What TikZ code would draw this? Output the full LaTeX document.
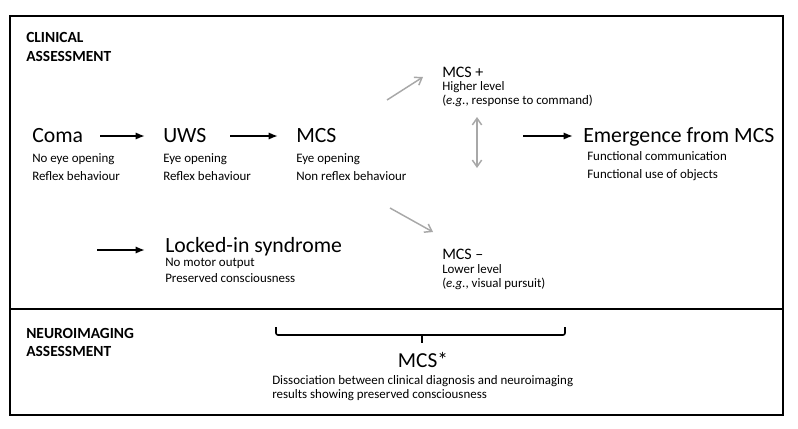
\documentclass[tikz,border=0pt]{standalone}
\usepackage{fontspec}
\setmainfont{Carlito}
\usepackage{xcolor}
\usetikzlibrary{arrows.meta, positioning, calc}

\definecolor{arrowgray}{RGB}{168,168,168}

\begin{document}
\begin{tikzpicture}[x=0.75pt, y=-0.75pt, >={Latex[length=7pt,width=5.5pt]},
					state/.style={inner sep=0pt, anchor=base west, font=\fontsize{16.3}{19}\selectfont},
					substate/.style={inner sep=0pt, anchor=base west, font=\fontsize{12}{14}\selectfont},
					desc/.style={inner sep=0pt, anchor=base west, align=left, font=\fontsize{9.7}{13.5}\selectfont},
					header/.style={inner sep=0pt, anchor=base west, align=left, font=\bfseries\fontsize{11.6}{13.5}\selectfont},
					arrow/.style={->, line width=1.5pt},
					grayarrow/.style={-{Straight Barb[length=5pt,width=7pt]}, line width=1.1pt, draw=arrowgray}
				]
					\useasboundingbox (0,0) rectangle (798,428);
					
					% Frame
					\draw[line width=1.5pt] (10,16) rectangle (783,415);
					\draw[line width=1.5pt] (10,309) -- (783,309);
					\node[header] (clinical) at (26,61) {CLINICAL\\ASSESSMENT};
					\node[header] (neuro) at (26,356) {NEUROIMAGING\\ASSESSMENT};
					
					% States (multi-line nodes sit on their last line)
					\node[state] (coma) at (32,142) {Coma};
					\node[desc] (comadesc) at (32,180) {No eye opening\\Reflex behaviour};
					\node[state] (uws) at (163,142) {UWS};
					\node[desc] (uwsdesc) at (163,180) {Eye opening\\Reflex behaviour};
					\node[state] (mcs) at (296,142) {MCS};
					\node[desc] (mcsdesc) at (296,180) {Eye opening\\Non reflex behaviour};
					\node[state] (emerge) at (583,142) {Emergence from MCS};
					\node[desc] (emergedesc) at (587,178) {Functional communication\\Functional use of objects};
					\node[state] (locked) at (165,252) {Locked-in syndrome};
					\node[desc, font=\fontsize{9.7}{12}\selectfont] (lockeddesc) at (165,282) {No motor output\\Preserved consciousness};
					
					% Sub-states
					\node[substate] (mcsplus) at (442,77) {MCS +};
					\node[desc, font=\fontsize{9.7}{10}\selectfont] (mcsplusdesc) at (442,104) {Higher level\\(\textit{e.g.}, response to command)};
					\node[substate] (mcsminus) at (442,259) {MCS --};
					\node[desc, font=\fontsize{9.7}{10}\selectfont] (mcsminusdesc) at (442,287) {Lower level\\(\textit{e.g.}, visual pursuit)};
					
					% Neuroimaging
					\node[state, anchor=base, font=\fontsize{16}{18}\selectfont] (mcsstar) at (423,367) {MCS*};
					\node[desc, font=\fontsize{9.7}{10.5}\selectfont] (mcsstardesc) at (272,398) {Dissociation between clinical diagnosis and neuroimaging\\results showing preserved consciousness};
					
					% Arrows
					\draw[arrow] ([shift={(17,-6)}]coma.base east) -- ([shift={(-18,-6)}]uws.base west);
					\draw[arrow] ([shift={(-66,-6)}]mcs.base west) -- ([shift={(-18,-6)}]mcs.base west);
					\draw[arrow] ([shift={(-60,-6)}]emerge.base west) -- ([shift={(-10,-6)}]emerge.base west);
					\draw[arrow] ([shift={(-68,-2)}]locked.base west) -- ([shift={(-20,-2)}]locked.base west);
					\draw[grayarrow] ([shift={(91,-42)}]mcs.base west) -- ([shift={(-19,0)}]mcsplus.base west);
					\draw[grayarrow] ([shift={(94,66)}]mcs.base west) -- ([shift={(-9,-27)}]mcsminus.base west);
					\draw[grayarrow, {Straight Barb[length=5pt,width=7pt]}-{Straight Barb[length=5pt,width=7pt]}] ([shift={(35,40)}]mcsplus.base west) -- ([shift={(35,-91)}]mcsminus.base west);
					
					% Bracket
					\draw[line width=1.2pt, rounded corners=1.5pt] (276,327) -- (276,335) -- (565,335) -- (565,327);
					\draw[line width=1.2pt] (422,335) -- (422,343);
				\end{tikzpicture}
\end{document}
